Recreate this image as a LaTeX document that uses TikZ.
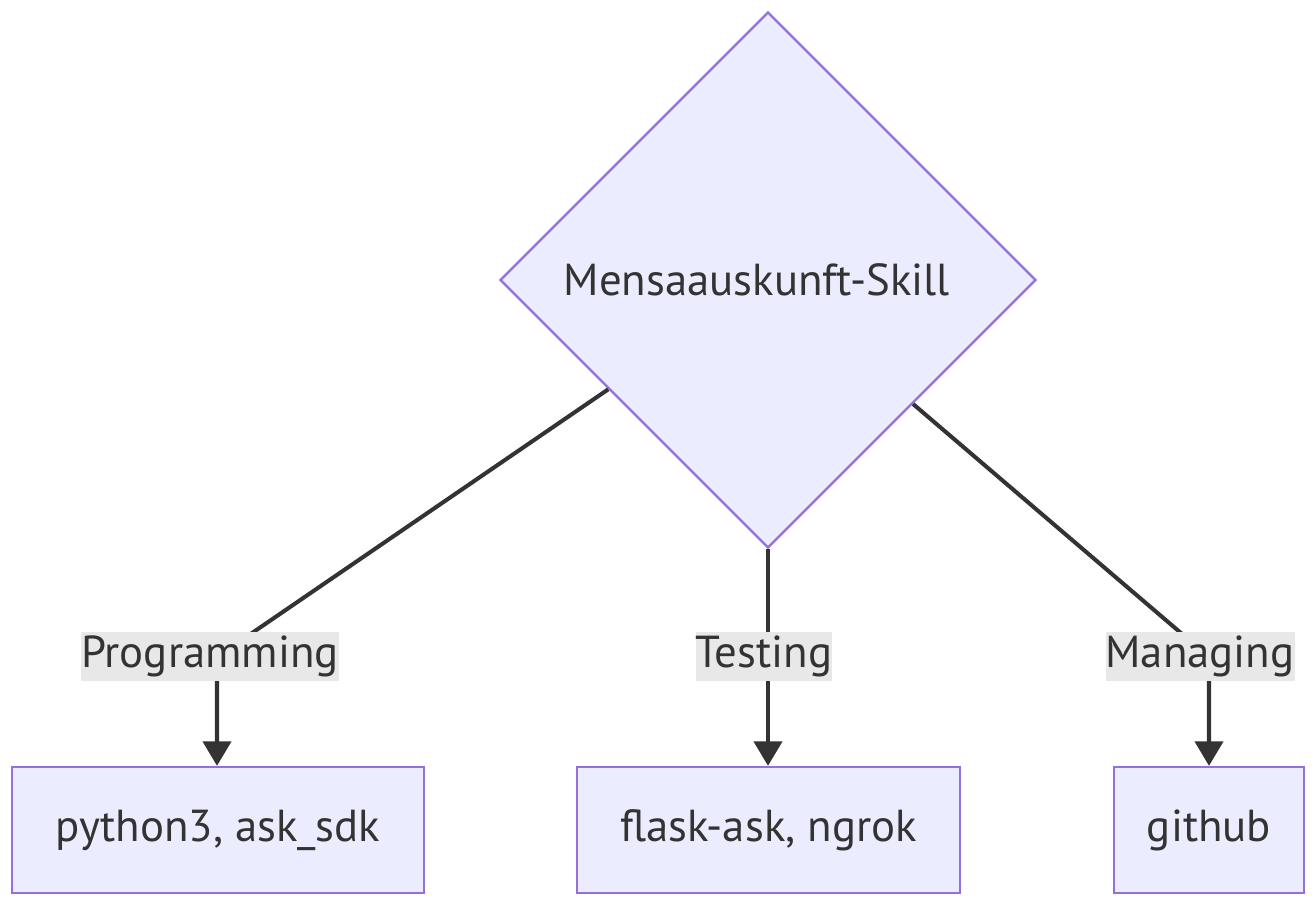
\documentclass[tikz,border=0pt]{standalone}
\usepackage{fontspec}
\setmainfont{PT Sans}
\usetikzlibrary{shapes.geometric,arrows.meta}
\definecolor{boxfill}{HTML}{ECECFF}
\definecolor{boxline}{HTML}{9370DB}
\definecolor{edgeline}{HTML}{333333}
\definecolor{lblfill}{HTML}{E8E8E8}
\tikzset{
	box/.style={draw=boxline, fill=boxfill, line width=1.3pt, text=edgeline, minimum height=2.52cm, inner sep=0pt},
	edge/.style={draw=edgeline, line width=2.3pt, -{Triangle[length=14pt,width=16pt]}},
	lbl/.style={fill=lblfill, text=edgeline, inner sep=0pt, minimum height=0.98cm},
}
\begin{document}
\begin{tikzpicture}[x=0.02cm, y=-0.02cm, font=\fontsize{25.5}{30}\selectfont]
			%%%%% START %%%%%
			\useasboundingbox (0, 0) rectangle (1314, 902);
			
			\node[box, diamond, minimum width=10.72cm, minimum height=10.72cm, aspect=1] (skill) at (768, 280) {Mensaauskunft-Skill\hspace*{0.45cm}};
			
			\node[box, minimum width=8.24cm] (prog) at (218, 830) {python3, ask\_sdk};
			\node[box, minimum width=7.66cm] (test) at (768.5, 830) {flask-ask, ngrok};
			\node[box, minimum width=3.8cm] (manage) at (1209, 830) {github};
			
			\coordinate (bendP) at (217, 657);
			\coordinate (bendT) at (768, 657);
			\coordinate (bendM) at (1209, 657);
			
			\draw[edge] (skill) -- (bendP) -- (bendP |- prog.north);
			\draw[edge] (skill.south) -- (bendT) -- (bendT |- test.north);
			\draw[edge] (skill) -- (bendM) -- (bendM |- manage.north);
			
			\node[lbl] (lblP) at (210, 656) {Programming};
			\node[lbl] (lblT) at (764, 656) {Testing};
			\node[lbl] (lblM) at (1200, 656) {Managing};
			
			%%%%% END %%%%%
		\end{tikzpicture}
\end{document}
